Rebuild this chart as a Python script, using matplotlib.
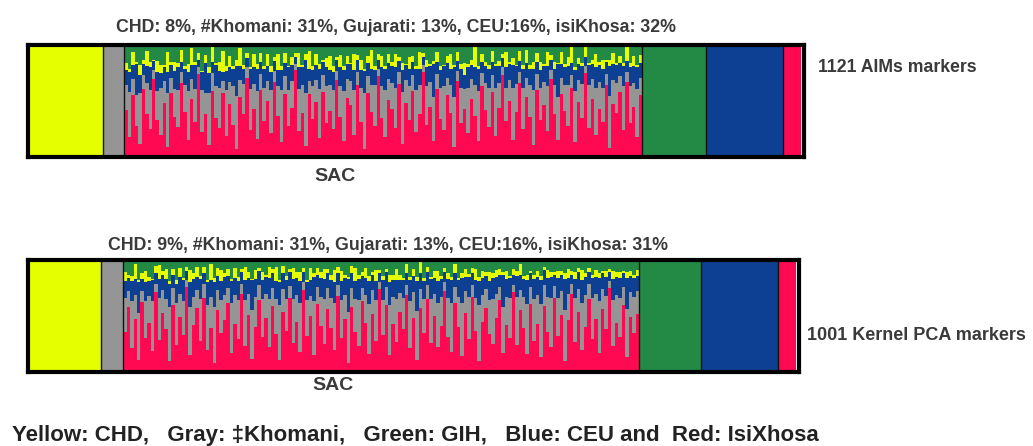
import numpy as np
import matplotlib
matplotlib.use("Agg")
import matplotlib.pyplot as plt

plt.rcParams['font.family'] = ['Liberation Sans', 'DejaVu Sans']

# ancestry colours: CHD, Khomani, GIH, CEU, isiXhosa
COL = {
    "CHD": "#e6ff00",
    "Khomani": "#959595",
    "GIH": "#228a45",
    "CEU": "#0d3f92",
    "Xhosa": "#ff0a52",
}

# SAC individuals (percent per component), AIMs run
red_top = [
    42, 18, 55, 30, 12, 61, 38, 25, 70, 33, 20, 48, 9, 57, 36,
    27, 66, 40, 15, 52, 31, 74, 22, 45, 11, 59, 35, 26, 63, 19,
    47, 29, 8, 54, 38, 71, 24, 43, 16, 60, 32, 50, 21, 67, 37,
    13, 56, 28, 44, 78, 23, 39, 10, 62, 34, 49, 17, 58, 30, 41,
    25, 69, 36, 14, 53, 46, 20, 64, 31, 7, 57, 40, 28, 72, 35,
    18, 51, 43, 26, 65, 12, 48, 33, 59, 22, 38, 76, 29, 45, 16,
    61, 34, 24, 55, 39, 10, 68, 30, 47, 21, 52, 37, 14, 63, 42,
    27, 58, 19, 44, 73, 32, 50, 15, 40, 66, 25, 54, 36, 11, 60,
    33, 46, 23, 70, 38, 17, 56, 41, 28, 62, 13, 49, 35, 75, 26,
    52, 20, 43, 31, 64, 9, 47, 39, 58, 24, 67, 30, 45, 18, 55]
gray_top = [
    22, 40, 15, 30, 45, 12, 28, 35, 8, 26, 42, 20, 48, 14, 25,
    33, 10, 24, 44, 18, 30, 6, 38, 22, 46, 16, 28, 36, 12, 41,
    20, 34, 50, 15, 27, 9, 37, 22, 43, 14, 30, 18, 39, 10, 26,
    47, 16, 32, 24, 5, 38, 25, 49, 13, 29, 20, 44, 15, 33, 23,
    35, 8, 27, 45, 17, 22, 40, 12, 31, 50, 15, 24, 36, 7, 28,
    42, 19, 23, 36, 11, 46, 21, 30, 14, 38, 26, 6, 34, 22, 44,
    13, 28, 39, 16, 25, 48, 9, 32, 20, 41, 18, 27, 45, 12, 24,
    35, 15, 43, 22, 7, 30, 19, 47, 25, 10, 37, 17, 28, 49, 14,
    29, 21, 40, 8, 26, 44, 15, 23, 36, 11, 46, 20, 30, 6, 38,
    18, 42, 24, 31, 10, 50, 22, 27, 14, 39, 9, 33, 21, 43, 16]
blue_top = [
    14, 18, 12, 30, 16, 10, 15, 20, 8, 17, 13, 12, 19, 11, 16,
    20, 9, 15, 17, 12, 21, 7, 16, 32, 18, 10, 19, 15, 9, 17,
    13, 16, 28, 12, 14, 8, 18, 15, 20, 11, 17, 13, 16, 9, 15,
    18, 12, 20, 14, 6, 19, 16, 31, 11, 15, 13, 18, 12, 17, 14,
    16, 10, 17, 19, 13, 15, 18, 11, 16, 20, 12, 15, 14, 8, 17,
    19, 14, 15, 18, 10, 20, 13, 16, 12, 19, 15, 7, 17, 14, 33,
    11, 16, 18, 13, 15, 29, 9, 17, 14, 18, 12, 16, 20, 10, 15,
    17, 12, 19, 15, 8, 18, 14, 20, 16, 10, 17, 13, 15, 19, 11,
    16, 14, 18, 9, 15, 34, 12, 16, 17, 11, 19, 14, 16, 8, 18,
    13, 18, 15, 17, 11, 30, 14, 16, 12, 18, 10, 17, 15, 19, 13]
yellow_top = [
    6, 3, 12, 2, 9, 4, 14, 5, 1, 10, 7, 2, 18, 3, 8,
    4, 11, 2, 7, 15, 3, 6, 1, 9, 5, 13, 2, 8, 20, 4,
    10, 2, 6, 16, 3, 5, 1, 12, 4, 8, 2, 11, 5, 3, 14,
    3, 9, 1, 7, 4, 13, 2, 6, 18, 3, 10, 4, 2, 8, 12,
    5, 2, 11, 3, 7, 1, 14, 4, 9, 2, 6, 17, 3, 5, 10,
    2, 8, 4, 12, 3, 6, 1, 10, 5, 2, 15, 4, 7, 2, 3,
    9, 3, 1, 6, 13, 2, 8, 4, 11, 3, 5, 19, 2, 7, 4,
    3, 10, 2, 5, 4, 14, 2, 6, 1, 9, 4, 12, 3, 6, 8,
    7, 2, 13, 4, 6, 1, 11, 3, 8, 16, 2, 5, 3, 9, 2,
    4, 12, 3, 8, 2, 5, 10, 2, 6, 3, 14, 4, 9, 2, 7]
green_top = [
    16, 21, 6, 16, 18, 13, 5, 15, 13, 14, 18, 18, 6, 15, 15,
    16, 4, 19, 17, 3, 15, 7, 23, 10, 20, 2, 16, 15, 6, 19,
    10, 19, 14, 3, 18, 7, 20, 8, 17, 7, 19, 8, 19, 11, 8,
    19, 7, 19, 11, 7, 7, 18, 8, 6, 19, 8, 17, 13, 12, 10,
    19, 11, 9, 19, 10, 16, 8, 9, 13, 21, 10, 4, 19, 8, 10,
    19, 8, 15, 8, 11, 16, 17, 11, 10, 19, 6, 7, 13, 17, 16,
    6, 19, 18, 10, 8, 19, 6, 17, 18, 17, 13, 1, 19, 8, 15,
    18, 5, 17, 14, 8, 6, 15, 12, 18, 5, 18, 4, 18, 15, 7,
    15, 17, 6, 9, 15, 18, 6, 17, 11, 0, 20, 12, 16, 2, 16,
    13, 8, 15, 13, 13, 15, 7, 16, 10, 16, 0, 16, 10, 18, 9]

# SAC individuals, Kernel PCA run
red_bot = [
    36, 58, 21, 47, 12, 65, 30, 44, 19, 71, 27, 53, 38, 10, 60,
    24, 49, 33, 76, 15, 42, 57, 28, 67, 20, 39, 8, 55, 35, 46,
    62, 17, 43, 29, 70, 23, 51, 13, 40, 64, 31, 48, 22, 59, 34,
    11, 54, 37, 66, 26, 45, 18, 73, 32, 50, 14, 61, 41, 25, 56,
    39, 20, 68, 30, 47, 9, 58, 36, 23, 63, 44, 16, 52, 28, 74,
    33, 60, 15, 43, 27, 55, 38, 69, 21, 48, 12, 57, 35, 65, 26,
    50, 22, 41, 72, 31, 18, 62, 40, 14, 53, 29, 67, 37, 10, 45,
    57, 34, 25, 48, 64, 19, 42, 30, 71, 24, 55, 39, 16, 61, 28,
    43, 13, 59, 36, 22, 66, 32, 51, 11, 46, 70, 27, 54, 20, 40,
    65, 29, 47, 17, 56, 38, 75, 23, 44, 31, 60, 15, 49, 35, 52]
gray_bot = [
    30, 14, 42, 22, 46, 10, 33, 24, 44, 8, 36, 20, 27, 48, 15,
    38, 21, 30, 6, 43, 25, 16, 37, 12, 40, 28, 50, 18, 29, 23,
    13, 45, 26, 35, 9, 41, 19, 47, 27, 14, 34, 22, 43, 16, 31,
    49, 20, 28, 11, 39, 24, 44, 7, 32, 18, 46, 15, 26, 40, 19,
    27, 42, 10, 34, 22, 50, 17, 29, 41, 12, 25, 45, 21, 36, 6,
    31, 16, 45, 24, 38, 18, 28, 9, 42, 23, 47, 17, 30, 13, 39,
    20, 40, 26, 8, 35, 44, 14, 27, 48, 19, 37, 11, 29, 50, 24,
    17, 30, 41, 22, 12, 46, 25, 36, 7, 43, 18, 28, 45, 15, 37,
    26, 48, 19, 31, 44, 11, 34, 21, 49, 24, 9, 39, 20, 42, 29,
    14, 37, 23, 46, 18, 30, 6, 41, 25, 35, 16, 47, 22, 32, 20]
blue_bot = [
    15, 12, 18, 14, 31, 11, 17, 13, 19, 9, 16, 14, 18, 21, 12,
    17, 15, 19, 8, 22, 16, 12, 18, 10, 20, 15, 22, 13, 17, 16,
    11, 19, 15, 17, 10, 18, 14, 30, 16, 12, 17, 15, 19, 13, 16,
    20, 14, 17, 12, 18, 15, 19, 9, 16, 14, 21, 11, 17, 18, 13,
    16, 18, 10, 17, 15, 33, 13, 16, 19, 11, 15, 20, 14, 17, 8,
    18, 13, 20, 15, 17, 12, 16, 10, 19, 15, 29, 14, 16, 11, 18,
    14, 19, 16, 9, 17, 20, 12, 15, 22, 13, 18, 10, 16, 21, 15,
    12, 17, 19, 15, 11, 32, 16, 18, 9, 19, 14, 16, 21, 12, 18,
    16, 21, 13, 17, 19, 10, 18, 15, 30, 14, 8, 17, 15, 20, 16,
    10, 18, 15, 21, 14, 17, 8, 19, 16, 18, 12, 31, 15, 17, 14]
yellow_bot = [
    8, 3, 5, 13, 2, 6, 10, 4, 1, 7, 12, 3, 9, 2, 5,
    3, 8, 2, 4, 11, 5, 9, 3, 6, 2, 14, 4, 7, 10, 3,
    6, 2, 9, 4, 3, 12, 5, 1, 8, 3, 7, 2, 10, 4, 13,
    2, 7, 4, 3, 10, 5, 8, 4, 2, 11, 3, 6, 5, 9, 4,
    5, 11, 6, 9, 3, 2, 7, 12, 4, 3, 9, 5, 2, 10, 3,
    4, 3, 7, 5, 10, 4, 2, 8, 3, 6, 4, 11, 3, 5, 2,
    6, 9, 3, 4, 5, 3, 8, 2, 4, 7, 3, 5, 10, 4, 6,
    3, 8, 4, 6, 5, 3, 7, 2, 5, 4, 9, 3, 5, 2, 4,
    5, 4, 3, 7, 4, 2, 6, 3, 5, 8, 3, 6, 4, 9, 3,
    4, 3, 6, 4, 2, 5, 3, 7, 4, 5, 2, 6, 4, 3, 5]
green_bot = [
    11, 13, 14, 4, 20, 12, 10, 15, 17, 5, 4, 10, 8, 19, 8,
    18, 7, 16, 6, 9, 12, 6, 14, 6, 18, 4, 16, 7, 9, 12,
    8, 17, 7, 15, 8, 6, 11, 18, 9, 7, 11, 13, 6, 8, 6,
    18, 5, 14, 8, 7, 11, 11, 7, 18, 7, 11, 7, 11, 8, 8,
    13, 9, 6, 10, 13, 17, 5, 7, 13, 11, 7, 14, 11, 9, 9,
    14, 8, 13, 13, 8, 14, 16, 4, 15, 8, 16, 1, 16, 6, 15,
    10, 10, 14, 7, 12, 15, 4, 16, 12, 8, 12, 7, 8, 15, 10,
    11, 11, 12, 9, 8, 12, 10, 14, 8, 10, 4, 14, 13, 10, 13,
    10, 14, 6, 9, 11, 11, 10, 10, 13, 8, 10, 11, 7, 9, 12,
    7, 13, 9, 12, 10, 10, 8, 10, 11, 11, 10, 12, 10, 13, 9]

# block order along the bar and their relative widths
ref_order = ["CHD", "Khomani", "SAC", "GIH", "CEU", "Xhosa"]
widths_top = [75, 21, 516, 63, 77, 18]
widths_bot = [73, 22, 515, 62, 77, 18]

titles = ["CHD: 8%, #Khomani: 31%, Gujarati: 13%, CEU:16%, isiKhosa: 32%",
          "CHD: 9%, #Khomani: 31%, Gujarati: 13%, CEU:16%, isiKhosa: 31%"]
side_labels = ["1121 AIMs markers", "1001 Kernel PCA markers"]


def structure_panel(ax, widths, comps):
    # comps in stacking order: isiXhosa, Khomani, CEU, CHD, GIH
    q = np.array(comps, dtype=float)
    q = q / q.sum(axis=0)
    x0 = 0.0
    for name, w in zip(ref_order, widths):
        if name == "SAC":
            n = q.shape[1]
            dx = w / n
            xs = x0 + np.arange(n) * dx
            bottom = np.zeros(n)
            for row, key in zip(q, ["Xhosa", "Khomani", "CEU", "CHD", "GIH"]):
                ax.bar(xs, row, width=dx * 1.05, bottom=bottom, align="edge",
                       color=COL[key], linewidth=0)
                bottom += row
        else:
            ax.bar(x0, 1.0, width=w, align="edge", color=COL[name], linewidth=0)
        x0 += w
        if name != "Xhosa":
            ax.axvline(x0, color="#111111", lw=1.0)
    ax.set_xlim(0, x0 + 3)
    ax.set_ylim(0, 1)
    ax.set_xticks([])
    ax.set_yticks([])
    for sp in ax.spines.values():
        sp.set_linewidth(3)
        sp.set_color("black")


fig = plt.figure(figsize=(10.33, 4.46), dpi=100)
ax1 = fig.add_axes([0.0271, 0.648, 0.7512, 0.251])
ax2 = fig.add_axes([0.0271, 0.166, 0.7464, 0.251])

structure_panel(ax1, widths_top, [red_top, gray_top, blue_top, yellow_top, green_top])
structure_panel(ax2, widths_bot, [red_bot, gray_bot, blue_bot, yellow_bot, green_bot])

txt = dict(color="#3a3a3a", fontweight="bold")
fig.text(396 / 1033, 1 - 27 / 446, titles[0], ha="center", va="center", fontsize=12.8, **txt)
fig.text(388 / 1033, 1 - 245 / 446, titles[1], ha="center", va="center", fontsize=12.8, **txt)
fig.text(335 / 1033, 1 - 177 / 446, "SAC", ha="center", va="center", fontsize=14, **txt)
fig.text(333 / 1033, 1 - 386 / 446, "SAC", ha="center", va="center", fontsize=14, **txt)
fig.text(818 / 1033, 1 - 68 / 446, side_labels[0], ha="left", va="center", fontsize=12.7, **txt)
fig.text(807 / 1033, 1 - 335 / 446, side_labels[1], ha="left", va="center", fontsize=13, **txt)

fig.text(12 / 1033, 1 - 436 / 446,
         "Yellow: CHD,   Gray: \u2021Khomani,   Green: GIH,   Blue: CEU and  Red: IsiXhosa",
         ha="left", va="center", fontsize=16, color="#222222", fontweight="bold")

fig.savefig("out.png", dpi=100)
